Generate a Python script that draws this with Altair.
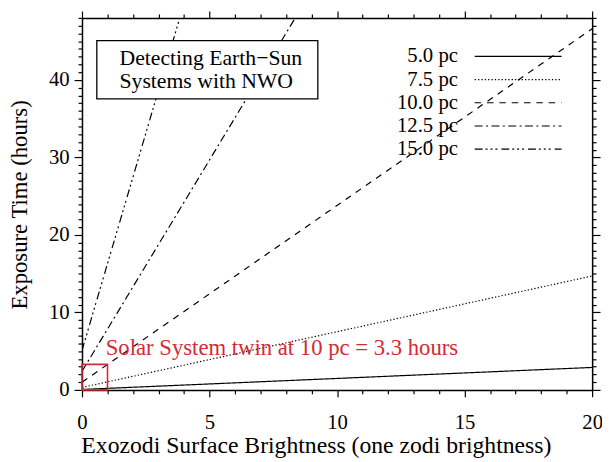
import altair as alt
import pandas as pd

# ---- data ----
distances = ["5.0 pc", "7.5 pc", "10.0 pc", "12.5 pc", "15.0 pc"]
x_ends = [0, 20]
t_at_x0 = [0.06, 0.32, 1.0, 2.4, 5.1]
t_at_x20 = [2.9, 14.7, 46.6, 111.5, 229.0]
dash_styles = [[1, 0], [1.3, 2.1], [6.5, 6], [8, 3.5, 2, 3.5], [8, 3, 2, 3, 2, 3, 2, 4]]

twin_x = [0, 1]
twin_t = [0, 3.3]
twin_label = "Solar System twin at 10 pc = 3.3 hours"
title_lines = ["Detecting Earth\u2212Sun", "Systems with NWO"]

x_ticks = list(range(0, 21))
y_ticks = list(range(0, 49))

FONT = "Liberation Serif"
RED = "#d42a35"

rows = []
for d, a, b in zip(distances, t_at_x0, t_at_x20):
    rows.append({"distance": d, "x": x_ends[0], "t": a})
    rows.append({"distance": d, "x": x_ends[1], "t": b})
df = pd.DataFrame(rows)

xscale = alt.Scale(domain=[0, 20], nice=False, zero=False)
yscale = alt.Scale(domain=[0, 48], nice=False, zero=False)

common_axis = dict(
    domainColor="black", domainWidth=1.5, tickColor="black", tickWidth=1.2,
    grid=False, labelFont=FONT, labelFontSize=21, labelColor="black",
    titleFont=FONT, titleFontWeight="normal", titleColor="black",
    labelOverlap=False, labelFlush=False,
)

x_bottom = alt.Axis(
    values=x_ticks, orient="bottom",
    labelExpr="datum.value % 5 === 0 ? datum.label : ''",
    tickSize={"condition": {"test": "datum.value % 5 === 0", "value": 7}, "value": 4},
    labelPadding=15, title="Exozodi Surface Brightness (one zodi brightness)",
    titleFontSize=24, titleX=237, titleY=63, titleAlign="center",
    titleBaseline="alphabetic",
    **common_axis,
)
y_left = alt.Axis(
    values=y_ticks, orient="left",
    labelExpr="datum.value % 10 === 0 ? datum.label : ''",
    tickSize={"condition": {"test": "datum.value % 10 === 0", "value": 8}, "value": 4},
    labelPadding=5, title="Exposure Time (hours)",
    titleFontSize=23, titleAngle=270, titleX=-56, titleY=189, titleAlign="center",
    titleBaseline="alphabetic",
    **common_axis,
)
x_top = alt.Axis(
    values=x_ticks, orient="top", labels=False, title=None,
    tickSize={"condition": {"test": "datum.value % 5 === 0", "value": 7}, "value": 4},
    **common_axis,
)
y_right = alt.Axis(
    values=y_ticks, orient="right", labels=False, title=None,
    tickSize={"condition": {"test": "datum.value % 10 === 0", "value": 8}, "value": 4},
    **common_axis,
)

base = alt.Chart(df)

lines = base.mark_line(clip=True, strokeWidth=1.2, color="black").encode(
    x=alt.X("x:Q", scale=xscale, axis=x_bottom),
    y=alt.Y("t:Q", scale=yscale, axis=y_left),
    strokeDash=alt.StrokeDash(
        "distance:N", sort=distances,
        scale=alt.Scale(domain=distances, range=dash_styles),
        legend=alt.Legend(
            title=None, orient="none", legendX=430, legendY=27,
            symbolType="M-4,0H4", symbolSize=484, symbolStrokeWidth=1.2,
            symbolStrokeColor="black", labelFont=FONT, labelFontSize=21,
            labelColor="black", labelAlign="right", labelOffset={"expr": "-73"},
            rowPadding=1.5, padding=0,
        ),
    ),
)

frame = base.mark_line(opacity=0, clip=True).encode(
    x=alt.X("x:Q", scale=xscale, axis=x_top),
    y=alt.Y("t:Q", scale=yscale, axis=y_right),
    detail="distance:N",
)

twin_df = pd.DataFrame({"x0": [twin_x[0]], "x1": [twin_x[1]], "t0": [twin_t[0]], "t1": [twin_t[1]],
                        "label": [twin_label], "lx": [0.93], "ly": [4.5]})
twin_box = alt.Chart(twin_df).mark_rect(fill=None, stroke=RED, strokeWidth=1.6).encode(
    x=alt.X("x0:Q", scale=xscale, axis=None), x2="x1:Q",
    y=alt.Y("t0:Q", scale=yscale, axis=None), y2="t1:Q",
)
twin_text = alt.Chart(twin_df).mark_text(
    align="left", baseline="alphabetic", font=FONT, fontSize=23, color=RED
).encode(
    x=alt.X("lx:Q", scale=xscale, axis=None),
    y=alt.Y("ly:Q", scale=yscale, axis=None),
    text="label:N",
)

title_box = alt.Chart(twin_df).mark_rect(fill="white", stroke="black", strokeWidth=1.3).encode(
    x=alt.value(15), x2=alt.value(239), y=alt.value(23), y2=alt.value(82)
)
title_text = alt.Chart(twin_df).mark_text(
    align="left", baseline="alphabetic", font=FONT, fontSize=22, color="black",
    lineHeight=23, text=title_lines,
).encode(x=alt.value(38), y=alt.value(48))

chart = alt.layer(lines, frame, twin_box, twin_text, title_box, title_text).resolve_axis(
    x="independent", y="independent"
).properties(
    width=517, height=377,
    autosize=alt.AutoSizeParams(type="none"),
    padding={"left": 75, "top": 7, "right": 10, "bottom": 70},
).configure_view(stroke=None).configure(background="white")

chart.save("out.html", embed_options={"renderer": "svg", "actions": False})
